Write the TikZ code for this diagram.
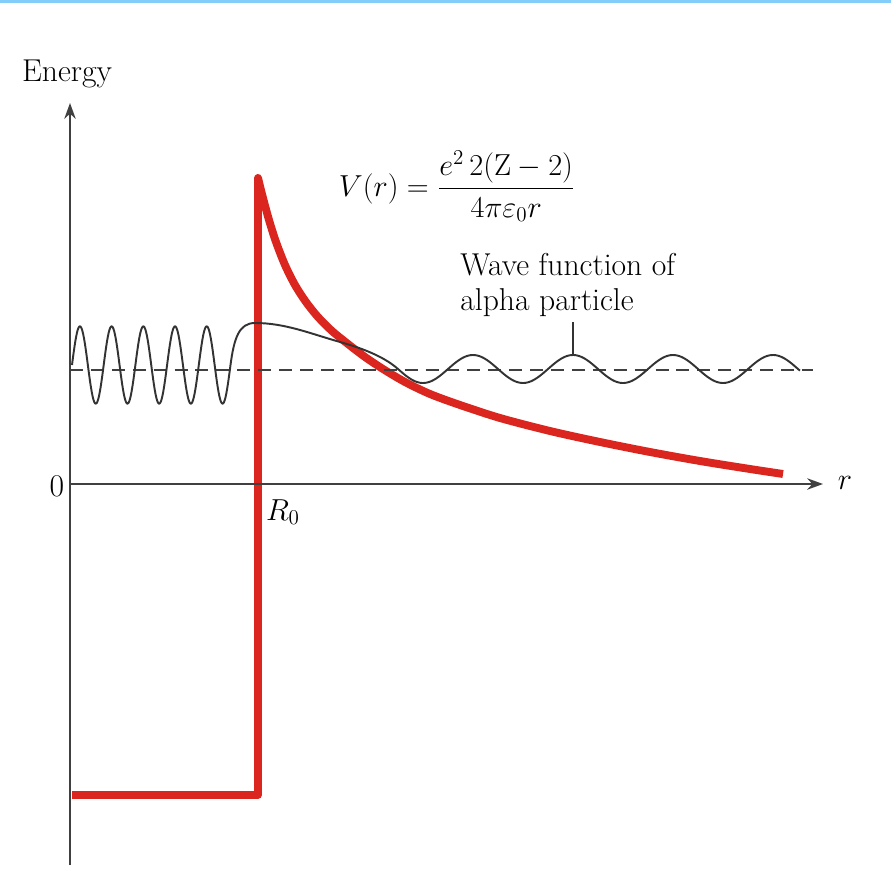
\documentclass[tikz,border=0pt]{standalone}
\usetikzlibrary{arrows.meta}
\definecolor{potred}{RGB}{218,38,30}
\definecolor{skyline}{RGB}{130,205,250}
\tikzset{
	axis/.style={line width=1.3pt,black!75},
	wave/.style={line width=1.1pt,black!80},
	level/.style={line width=1.1pt,black!75,dash pattern=on 7.4pt off 4.5pt},
	potential/.style={line width=4.5pt,potred}
}
\begin{document}
\begin{tikzpicture}[>={Stealth[length=9pt,width=6.5pt]}, line join=round, font=\fontsize{18}{20}\selectfont]
	\def\Rn{3.76} \def\Vtop{6.12} \def\Vbot{-6.22} % well
	\def\El{2.28} % energy level
	\def\xmax{15.06} \def\ymax{7.62}
	\useasboundingbox (-1.4,-8.04) rectangle (16.42,9.68);
	\fill[skyline] (-1.4,9.62) rectangle (16.42,9.68);
	% potential
	\draw[potential] (0.04,\Vbot)--(\Rn,\Vbot)--(\Rn,\Vtop)
		-- plot[smooth] coordinates{(\Rn,\Vtop) (3.86,5.72) (3.98,5.28) (4.12,4.84) (4.30,4.38) (4.50,3.98) (4.72,3.64) (4.96,3.34) (5.24,3.06) (5.56,2.80) (5.90,2.54) (6.26,2.30) (6.70,2.04) (7.20,1.80) (7.80,1.58) (8.60,1.32) (9.60,1.06) (10.60,0.84) (11.60,0.64) (12.60,0.46) (13.60,0.30) (14.26,0.20)};
	\draw[level] (0,\El)--(14.86,\El);
	% wave function
	\draw[wave] plot[domain=0.04:3.21,samples=200] (\x,{2.38+0.774*sin(360*(\x-0.04)/0.634)})
		.. controls (3.28,2.92) and (3.38,3.22) .. (3.70,3.22)
		.. controls (4.3,3.22) and (4.8,3.01) .. (5.4,2.84)
		.. controls (5.9,2.70) and (6.3,2.53) .. (6.56,2.30)
		-- plot[domain=6.56:14.6,samples=200] (\x,{2.30-0.28*sin(180*(\x-6.56))});
	\coordinate (wpeak) at (10.06,2.58);
	\node[align=left,anchor=west,inner sep=0] (wavelbl) at (7.80,3.98) {Wave function of\\alpha particle};
	\draw[wave,line width=0.8pt] ([yshift=-3pt]wavelbl.south -| wpeak)--(wpeak);
	\node (Vr) at (7.74,5.95) {$\displaystyle V(r)=\frac{e^2\,2(\mathrm{Z}-2)}{4\pi\varepsilon_0 r}$};
	% axes
	\draw[axis,->] (0,-\ymax)--(0,\ymax);
	\draw[axis,->] (0,0)--(\xmax,0);
	\node (energy) at (-0.06,8.2) {Energy};
	\node (zero) at (-0.26,-0.05) {0};
	\node (rlab) at (15.5,0.02) {$r$};
	\node (Rlab) at (4.26,-0.56) {$R_0$};
\end{tikzpicture}
\end{document}
